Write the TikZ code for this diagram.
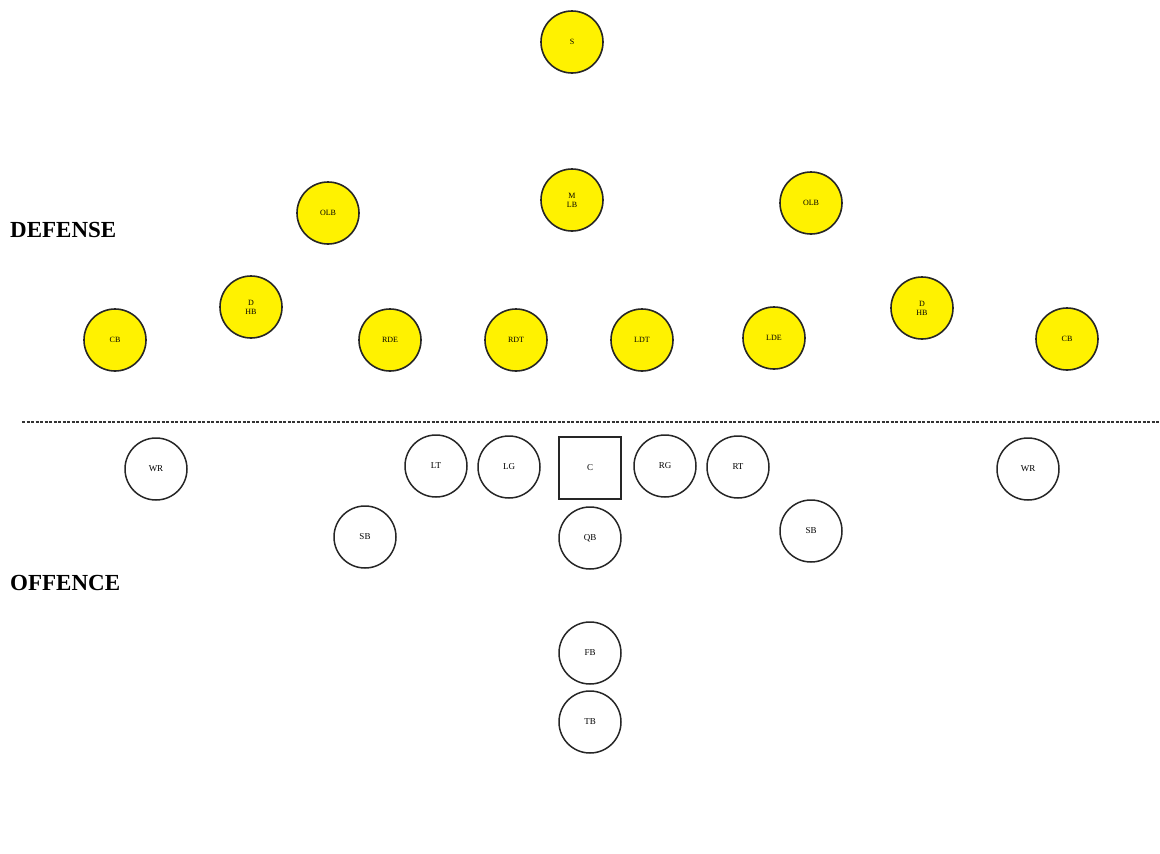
\documentclass[tikz,border=0pt]{standalone}
\usepackage{fontspec}
\setmainfont{Liberation Serif}
\begin{document}
\begin{tikzpicture}[x=1pt,y=-1pt,
  def/.style={circle,draw=black!85,fill=yellow,line width=1.6pt,minimum size=62pt,inner sep=0pt,font=\fontsize{8}{9}\selectfont,align=center},
  off/.style={circle,draw=black!85,fill=white,line width=1.5pt,minimum size=62pt,inner sep=0pt,font=\fontsize{9}{10}\selectfont,align=center},
  sq/.style={rectangle,draw=black!85,fill=white,line width=1.5pt,minimum size=62pt,inner sep=0pt,font=\fontsize{9}{10}\selectfont},
  side/.style={anchor=west,font=\fontsize{23}{25}\selectfont\bfseries,inner sep=0pt}]
\useasboundingbox (0,0) rectangle (1160,854);
% defense
\node[def] (s) at (572,42) {S};
\node[def] (olbl) at (328,213) {OLB};
\node[def] (mlb) at (572,200) {M\\LB};
\node[def] (olbr) at (811,203) {OLB};
\node[def] (cbl) at (115,340) {CB};
\node[def] (dhbl) at (251,307) {D\\HB};
\node[def] (rde) at (390,340) {RDE};
\node[def] (rdt) at (516,340) {RDT};
\node[def] (ldt) at (642,340) {LDT};
\node[def] (lde) at (774,338) {LDE};
\node[def] (dhbr) at (922,308) {D\\HB};
\node[def] (cbr) at (1067,339) {CB};
% line of scrimmage
\coordinate (losl) at (22,422);
\coordinate (losr) at (1160,422);
\draw[dash pattern=on 3pt off 1.5pt,line width=1.1pt,black!80] (losl) -- (losr);
% offense
\node[off] (wrl) at (156,469) {WR};
\node[off] (lt) at (436,466) {LT};
\node[off] (lg) at (509,467) {LG};
\node[sq] (c) at (590,468) {C};
\node[off] (rg) at (665,466) {RG};
\node[off] (rt) at (738,467) {RT};
\node[off] (wrr) at (1028,469) {WR};
\node[off] (sbl) at (365,537) {SB};
\node[off] (qb) at (590,538) {QB};
\node[off] (sbr) at (811,531) {SB};
\node[off] (fb) at (590,653) {FB};
\node[off] (tb) at (590,722) {TB};
% side labels
\node[side] (deflab) at (10,230) {DEFENSE};
\node[side] (offlab) at (10,583) {OFFENCE};
\end{tikzpicture}
\end{document}
